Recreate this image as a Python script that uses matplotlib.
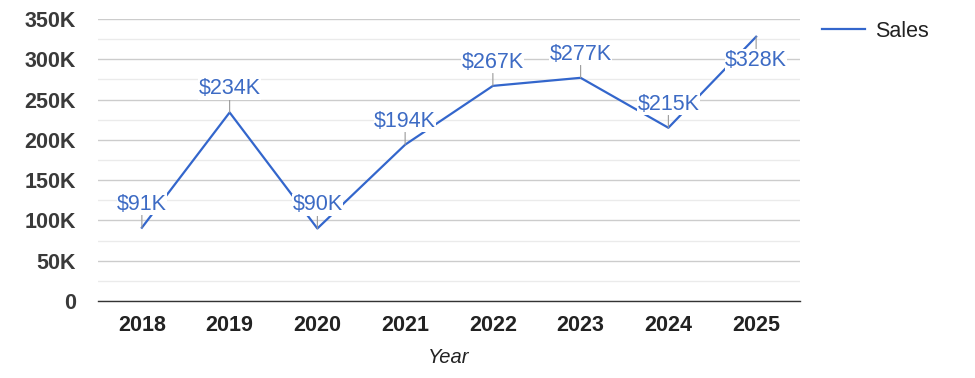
import numpy as np
import matplotlib.pyplot as plt
from matplotlib.ticker import FuncFormatter, MultipleLocator

years = ["2018", "2019", "2020", "2021", "2022", "2023", "2024", "2025"]
sales = [91000, 234000, 90000, 194000, 267000, 277000, 215000, 328000]
labels = ["$91K", "$234K", "$90K", "$194K", "$267K", "$277K", "$215K", "$328K"]

plt.rcParams['font.family'] = ['Liberation Sans', 'DejaVu Sans']

fig = plt.figure(figsize=(9.75, 3.78), dpi=100)
ax = fig.add_axes([98 / 975, 1 - 301 / 378, 702 / 975, 282 / 378])

x = np.arange(len(years))
line_color = '#3366cc'
ax.plot(x, sales, color=line_color, lw=1.6, label='Sales', zorder=3)

ymax = 350000
for xi, v, lab in zip(x, sales, labels):
    # labels near the top go below the point
    sign = -1 if v > ymax * 0.88 else 1
    ax.annotate('', xy=(xi, v), xytext=(0, sign * 9), textcoords='offset points',
                arrowprops=dict(arrowstyle='-', color='#999999', lw=0.8,
                                shrinkA=0, shrinkB=0), zorder=4)
    ax.annotate(lab, xy=(xi, v), xytext=(0, sign * 17), textcoords='offset points',
                ha='center', va='center', fontsize=15.5, color='#3d6bc4',
                bbox=dict(boxstyle='square,pad=0.02', fc='white', ec='none'),
                zorder=5)

ax.set_xlim(-0.5, len(years) - 0.5)
ax.set_ylim(0, ymax)
ax.set_xticks(x)
ax.set_xticklabels(years)
ax.yaxis.set_major_locator(MultipleLocator(50000))
ax.yaxis.set_minor_locator(MultipleLocator(25000))
ax.yaxis.set_major_formatter(FuncFormatter(lambda v, p: "0" if v == 0 else f"{int(v / 1000)}K"))

ax.grid(axis='y', which='major', color='#cccccc', lw=1.0, zorder=0)
ax.grid(axis='y', which='minor', color='#ebebeb', lw=1.0, zorder=0)
ax.set_axisbelow(True)
for s in ['left', 'right', 'top']:
    ax.spines[s].set_visible(False)
ax.spines['bottom'].set_color('#333333')
ax.spines['bottom'].set_linewidth(1.0)

ax.tick_params(axis='both', which='both', length=0)
ax.tick_params(axis='y', pad=16, labelsize=15.5, labelcolor='#3a3a3a')
ax.tick_params(axis='x', pad=10, labelsize=15.5, labelcolor='#222222')
for t in ax.get_xticklabels() + ax.get_yticklabels():
    t.set_fontweight('bold')

ax.set_xlabel('Year', fontsize=14.5, style='italic', color='#222222', labelpad=9)

fig.legend(loc='upper left', bbox_to_anchor=(822 / 975, 1 - 21 / 378), frameon=False,
           fontsize=15.5, handlelength=2.0, handletextpad=0.45, borderpad=0,
           borderaxespad=0, labelcolor='#222222')

fig.savefig('out.png', dpi=100)
